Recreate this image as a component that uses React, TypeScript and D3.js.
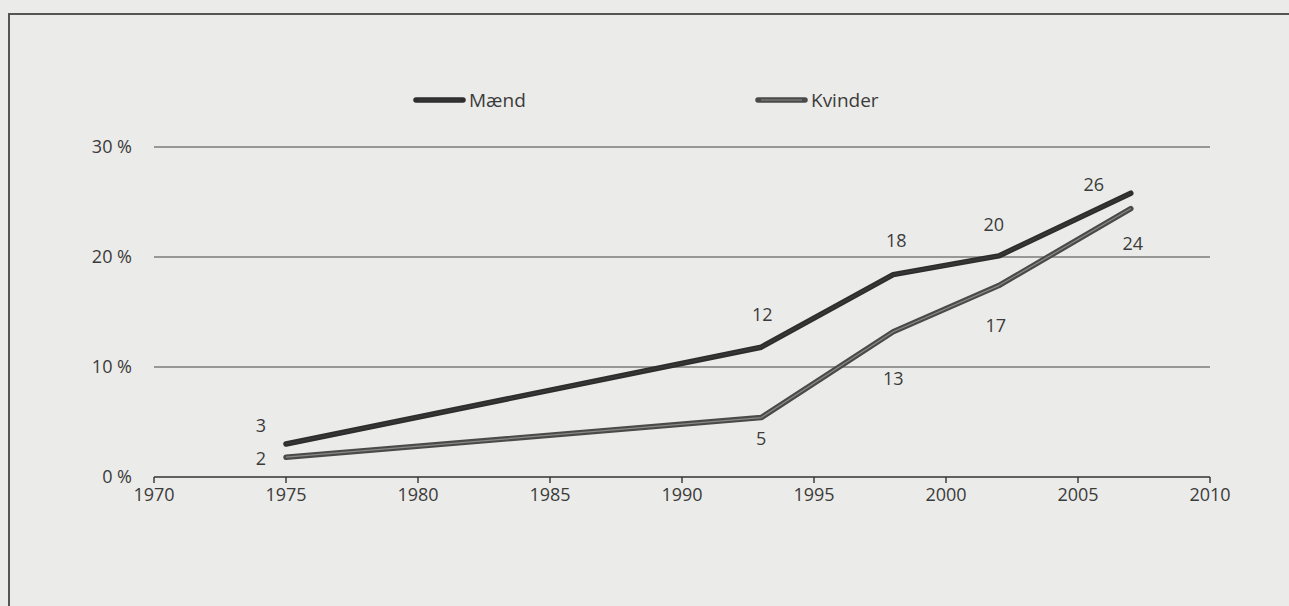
import React from "react";
import { scaleLinear, line } from "d3";

const years = [1975, 1993, 1998, 2002, 2007];
const maend = [3, 11.8, 18.4, 20.1, 25.8];
const kvinder = [1.8, 5.4, 13.2, 17.4, 24.4];
const maendLabels = ["3", "12", "18", "20", "26"];
const kvinderLabels = ["2", "5", "13", "17", "24"];
const xTicks = [1970, 1975, 1980, 1985, 1990, 1995, 2000, 2005, 2010];
const yTicks = [0, 10, 20, 30];

const W = 1289;
const H = 606;
const ink = "#3b3b3b";
const font = "'Open Sans', 'DejaVu Sans', sans-serif";

// label nudges around each point (dx, dy)
const maendNudge = [[-25, -17], [1, -31], [3, -32], [-5, -30], [-37, -7]];
const kvinderNudge = [[-25, 3], [0, 23], [0, 48], [-3, 42], [2, 37]];

export default function App() {
	const x = scaleLinear().domain([1970, 2010]).range([154, 1210]);
	const y = scaleLinear().domain([0, 30]).range([477, 147]);

	const pathGen = line<number>()
		.x((_, i) => x(years[i]))
		.y((d) => y(d));

	const series = [
		{ name: "Mænd", values: maend, labels: maendLabels, nudge: maendNudge, color: "#2e2e2e", inner: "#3a3a3a" },
		{ name: "Kvinder", values: kvinder, labels: kvinderLabels, nudge: kvinderNudge, color: "#4a4a4a", inner: "#8a8a88" }
	];

	const legend = [
		{ name: "Mænd", x0: 416, color: "#2e2e2e", inner: "#3a3a3a" },
		{ name: "Kvinder", x0: 758, color: "#4a4a4a", inner: "#8a8a88" }
	];

	return (
		<svg width={W} height={H} style={{ position: "absolute", left: 0, top: 0 }}>
			<rect width={W} height={H} fill="#ebebe9" />
			<path d={`M9,${H} L9,14 L${W},14`} fill="none" stroke="#555" strokeWidth={2} />

			{legend.map((l) => (
				<g key={l.name}>
					<line x1={l.x0} x2={l.x0 + 47} y1={100} y2={100} stroke={l.color} strokeWidth={5.5} strokeLinecap="round" />
					<line x1={l.x0 + 3} x2={l.x0 + 44} y1={100} y2={100} stroke={l.inner} strokeWidth={1.2} />
					<text x={l.x0 + 53} y={107} fontFamily={font} fontSize={19} fill={ink}>{l.name}</text>
				</g>
			))}

			{yTicks.map((t) => (
				<g key={t}>
					{t > 0 && (
						<line x1={x(1970)} x2={x(2010)} y1={y(t)} y2={y(t)} stroke="#444" strokeWidth={1.2} />
					)}
					<text x={132} y={y(t) + 6} textAnchor="end" fontFamily={font} fontSize={18} fill={ink}>
						{t} %
					</text>
				</g>
			))}

			<line x1={x(1970)} x2={x(2010)} y1={y(0)} y2={y(0)} stroke="#333" strokeWidth={1.6} />
			{xTicks.map((t) => (
				<g key={t}>
					<line x1={x(t)} x2={x(t)} y1={y(0)} y2={y(0) + 6} stroke="#333" strokeWidth={1.4} />
					<text x={x(t)} y={y(0) + 24} textAnchor="middle" fontFamily={font} fontSize={18} fill={ink}>
						{t}
					</text>
				</g>
			))}

			{series.map((s) => (
				<g key={s.name}>
					<path d={pathGen(s.values) || ""} fill="none" stroke={s.color} strokeWidth={5.5} strokeLinecap="round" strokeLinejoin="round" />
					<path d={pathGen(s.values) || ""} fill="none" stroke={s.inner} strokeWidth={1.2} strokeLinejoin="round" />
					{s.values.map((v, i) => (
						<text
							key={i}
							x={x(years[i]) + s.nudge[i][0]}
							y={y(v) + s.nudge[i][1]}
							textAnchor="middle"
							dominantBaseline="middle"
							fontFamily={font}
							fontSize={18}
							fill={ink}
						>
							{s.labels[i]}
						</text>
					))}
				</g>
			))}
		</svg>
	);
}
